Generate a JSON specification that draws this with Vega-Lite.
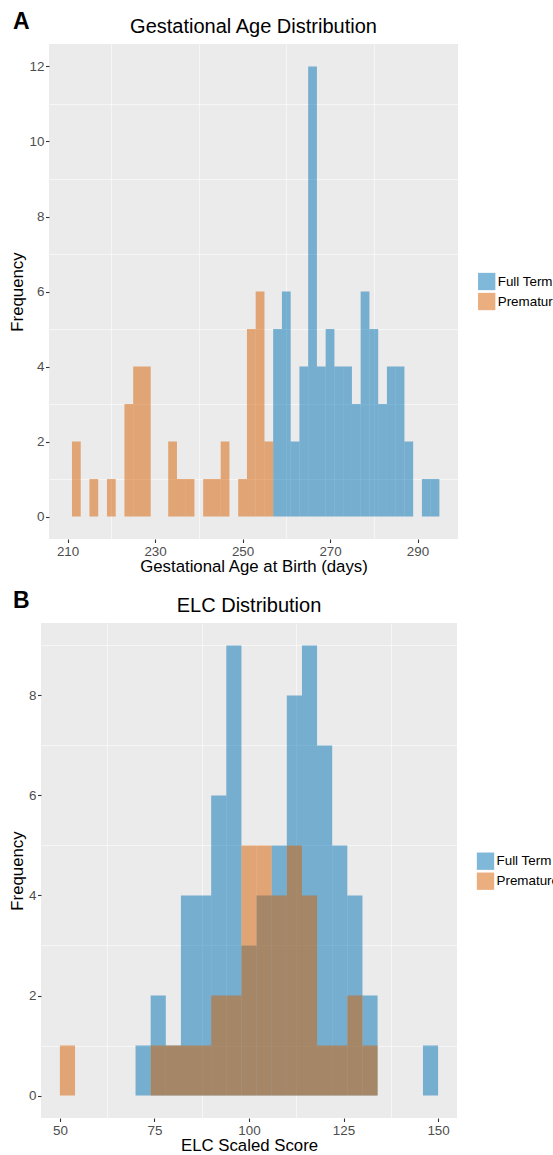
{
  "$schema": "https://vega.github.io/schema/vega-lite/v6.json",
  "background": "white",
  "padding": {"left": 8, "top": 11, "right": 0, "bottom": 0},
  "config": {
    "font": "Liberation Sans",
    "view": {"fill": "#EBEBEB", "stroke": null},
    "axis": {
      "grid": true, "gridColor": "white", "gridWidth": 1.1, "gridOpacity": 1,
      "domain": false, "tickColor": "#333333", "tickSize": 3.5, "tickWidth": 1.1,
      "labelColor": "#4D4D4D", "labelFontSize": 13.4, "labelPadding": 1.5,
      "titleFontSize": 16.8, "titleFontWeight": "normal", "titleColor": "black", "titlePadding": 2.5
    },
    "axisX": {"titlePadding": 1},
    "title": {"fontSize": 20, "fontWeight": "normal", "color": "black"},
    "legend": {
      "title": null, "symbolType": "square", "symbolSize": 300, "symbolStrokeWidth": 0,
      "symbolOpacity": 0.5, "labelFontSize": 13.4, "labelColor": "black", "rowPadding": 2,
      "labelOffset": 2, "padding": 0
    }
  },
  "spacing": 14,
  "resolve": {"scale": {"color": "independent"}, "legend": {"color": "independent"}},
  "vconcat": [
    {
      "title": {"text": "A", "anchor": "start", "fontSize": 23, "fontWeight": "bold", "offset": -17, "dx": 5},
      "spacing": 0,
      "resolve": {"scale": {"color": "independent"}, "legend": {"color": "independent"}},
      "hconcat": [
        {
          "width": 1, "height": 1,
          "view": {"fill": null, "stroke": null},
          "data": {"values": []},
          "mark": "point",
          "encoding": {}
        },
        {
          "title": {"text": "Gestational Age Distribution", "offset": 7},
          "width": 409, "height": 495,
          "data": {"values": [
            {"group": "Full Term", "start": 257, "end": 259, "count": 5},
            {"group": "Full Term", "start": 259, "end": 261, "count": 6},
            {"group": "Full Term", "start": 261, "end": 263, "count": 2},
            {"group": "Full Term", "start": 263, "end": 265, "count": 4},
            {"group": "Full Term", "start": 265, "end": 267, "count": 12},
            {"group": "Full Term", "start": 267, "end": 269, "count": 4},
            {"group": "Full Term", "start": 269, "end": 271, "count": 5},
            {"group": "Full Term", "start": 271, "end": 273, "count": 4},
            {"group": "Full Term", "start": 273, "end": 275, "count": 4},
            {"group": "Full Term", "start": 275, "end": 277, "count": 3},
            {"group": "Full Term", "start": 277, "end": 279, "count": 6},
            {"group": "Full Term", "start": 279, "end": 281, "count": 5},
            {"group": "Full Term", "start": 281, "end": 283, "count": 3},
            {"group": "Full Term", "start": 283, "end": 285, "count": 4},
            {"group": "Full Term", "start": 285, "end": 287, "count": 4},
            {"group": "Full Term", "start": 287, "end": 289, "count": 2},
            {"group": "Full Term", "start": 291, "end": 293, "count": 1},
            {"group": "Full Term", "start": 293, "end": 295, "count": 1},
            {"group": "Premature", "start": 211, "end": 213, "count": 2},
            {"group": "Premature", "start": 215, "end": 217, "count": 1},
            {"group": "Premature", "start": 219, "end": 221, "count": 1},
            {"group": "Premature", "start": 223, "end": 225, "count": 3},
            {"group": "Premature", "start": 225, "end": 227, "count": 4},
            {"group": "Premature", "start": 227, "end": 229, "count": 4},
            {"group": "Premature", "start": 233, "end": 235, "count": 2},
            {"group": "Premature", "start": 235, "end": 237, "count": 1},
            {"group": "Premature", "start": 237, "end": 239, "count": 1},
            {"group": "Premature", "start": 241, "end": 243, "count": 1},
            {"group": "Premature", "start": 243, "end": 245, "count": 1},
            {"group": "Premature", "start": 245, "end": 247, "count": 2},
            {"group": "Premature", "start": 249, "end": 251, "count": 1},
            {"group": "Premature", "start": 251, "end": 253, "count": 5},
            {"group": "Premature", "start": 253, "end": 255, "count": 6},
            {"group": "Premature", "start": 255, "end": 257, "count": 2}
          ]},
          "resolve": {"axis": {"x": "independent", "y": "independent"}},
          "layer": [
            {
              "mark": {"type": "bar", "opacity": 0},
              "encoding": {
                "x": {"field": "start", "type": "quantitative", "scale": {"domain": [205.75, 299.25], "nice": false, "zero": false},
                      "axis": {"orient": "top", "values": [220, 240, 260, 280], "labels": false, "ticks": false, "domain": false, "title": null, "gridWidth": 0.55}},
                "x2": {"field": "end"},
                "y": {"field": "count", "type": "quantitative", "scale": {"domain": [-0.6, 12.6], "nice": false, "zero": false},
                      "axis": {"orient": "right", "values": [1, 3, 5, 7, 9, 11], "labels": false, "ticks": false, "domain": false, "title": null, "gridWidth": 0.55}},
                "y2": {"datum": 0}
              }
            },
            {
              "mark": {"type": "bar", "opacity": 0.5},
              "encoding": {
                "x": {"field": "start", "type": "quantitative", "scale": {"domain": [205.75, 299.25], "nice": false, "zero": false},
                      "axis": {"values": [210, 230, 250, 270, 290], "title": "Gestational Age at Birth (days)"}},
                "x2": {"field": "end"},
                "y": {"field": "count", "type": "quantitative", "stack": null, "scale": {"domain": [-0.6, 12.6], "nice": false, "zero": false},
                      "axis": {"values": [0, 2, 4, 6, 8, 10, 12], "title": "Frequency"}},
                "y2": {"datum": 0},
                "color": {"field": "group", "type": "nominal",
                          "scale": {"domain": ["Full Term", "Premature"], "range": ["#0072B2", "#D55E00"]},
                          "legend": {"orient": "none", "legendX": 428.7, "legendY": 228.5}}
              }
            }
          ]
        }
      ]
    },
    {
      "title": {"text": "B", "anchor": "start", "fontSize": 23, "fontWeight": "bold", "offset": -17, "dx": 5},
      "spacing": 0,
      "resolve": {"scale": {"color": "independent"}, "legend": {"color": "independent"}},
      "hconcat": [
        {
          "width": 1, "height": 1,
          "view": {"fill": null, "stroke": null},
          "data": {"values": []},
          "mark": "point",
          "encoding": {}
        },
        {
          "title": {"text": "ELC Distribution", "offset": 7},
          "width": 416, "height": 495,
          "data": {"values": [
            {"group": "Full Term", "start": 70, "end": 74, "count": 1},
            {"group": "Full Term", "start": 74, "end": 78, "count": 2},
            {"group": "Full Term", "start": 78, "end": 82, "count": 1},
            {"group": "Full Term", "start": 82, "end": 86, "count": 4},
            {"group": "Full Term", "start": 86, "end": 90, "count": 4},
            {"group": "Full Term", "start": 90, "end": 94, "count": 6},
            {"group": "Full Term", "start": 94, "end": 98, "count": 9},
            {"group": "Full Term", "start": 98, "end": 102, "count": 3},
            {"group": "Full Term", "start": 102, "end": 106, "count": 4},
            {"group": "Full Term", "start": 106, "end": 110, "count": 5},
            {"group": "Full Term", "start": 110, "end": 114, "count": 8},
            {"group": "Full Term", "start": 114, "end": 118, "count": 9},
            {"group": "Full Term", "start": 118, "end": 122, "count": 7},
            {"group": "Full Term", "start": 122, "end": 126, "count": 5},
            {"group": "Full Term", "start": 126, "end": 130, "count": 4},
            {"group": "Full Term", "start": 130, "end": 134, "count": 2},
            {"group": "Full Term", "start": 146, "end": 150, "count": 1},
            {"group": "Premature", "start": 50, "end": 54, "count": 1},
            {"group": "Premature", "start": 74, "end": 78, "count": 1},
            {"group": "Premature", "start": 78, "end": 82, "count": 1},
            {"group": "Premature", "start": 82, "end": 86, "count": 1},
            {"group": "Premature", "start": 86, "end": 90, "count": 1},
            {"group": "Premature", "start": 90, "end": 94, "count": 2},
            {"group": "Premature", "start": 94, "end": 98, "count": 2},
            {"group": "Premature", "start": 98, "end": 102, "count": 5},
            {"group": "Premature", "start": 102, "end": 106, "count": 5},
            {"group": "Premature", "start": 106, "end": 110, "count": 4},
            {"group": "Premature", "start": 110, "end": 114, "count": 5},
            {"group": "Premature", "start": 114, "end": 118, "count": 4},
            {"group": "Premature", "start": 118, "end": 122, "count": 1},
            {"group": "Premature", "start": 122, "end": 126, "count": 1},
            {"group": "Premature", "start": 126, "end": 130, "count": 2},
            {"group": "Premature", "start": 130, "end": 134, "count": 1}
          ]},
          "resolve": {"axis": {"x": "independent", "y": "independent"}},
          "layer": [
            {
              "mark": {"type": "bar", "opacity": 0},
              "encoding": {
                "x": {"field": "start", "type": "quantitative", "scale": {"domain": [45, 155], "nice": false, "zero": false},
                      "axis": {"orient": "top", "values": [62.5, 87.5, 112.5, 137.5], "labels": false, "ticks": false, "domain": false, "title": null, "gridWidth": 0.55}},
                "x2": {"field": "end"},
                "y": {"field": "count", "type": "quantitative", "scale": {"domain": [-0.45, 9.45], "nice": false, "zero": false},
                      "axis": {"orient": "right", "values": [1, 3, 5, 7, 9], "labels": false, "ticks": false, "domain": false, "title": null, "gridWidth": 0.55}},
                "y2": {"datum": 0}
              }
            },
            {
              "mark": {"type": "bar", "opacity": 0.5},
              "encoding": {
                "x": {"field": "start", "type": "quantitative", "scale": {"domain": [45, 155], "nice": false, "zero": false},
                      "axis": {"values": [50, 75, 100, 125, 150], "title": "ELC Scaled Score"}},
                "x2": {"field": "end"},
                "y": {"field": "count", "type": "quantitative", "stack": null, "scale": {"domain": [-0.45, 9.45], "nice": false, "zero": false},
                      "axis": {"values": [0, 2, 4, 6, 8], "title": "Frequency"}},
                "y2": {"datum": 0},
                "color": {"field": "group", "type": "nominal",
                          "scale": {"domain": ["Full Term", "Premature"], "range": ["#0072B2", "#D55E00"]},
                          "legend": {"orient": "none", "legendX": 435.5, "legendY": 229.2}}
              }
            }
          ]
        }
      ]
    }
  ]
}
